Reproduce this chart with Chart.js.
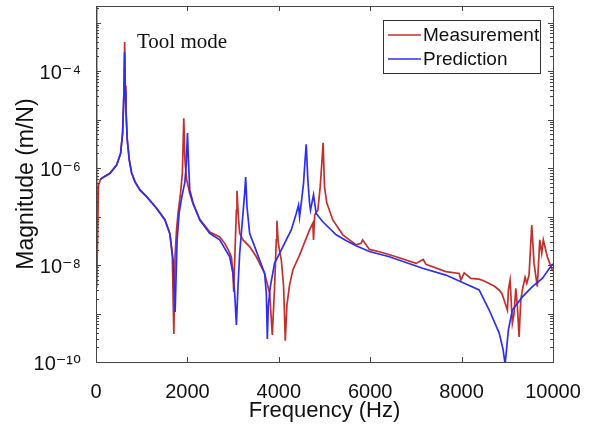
<!DOCTYPE html>
<html>
<head>
<meta charset="utf-8">
<script src="https://cdn.jsdelivr.net/npm/chart.js@4.4.1/dist/chart.umd.min.js"></script>
<style>
  html, body { margin: 0; padding: 0; background: #fff; }
  #wrap { width: 594px; height: 428px; }
</style>
</head>
<body>
<div id="wrap"><canvas id="frf" width="594" height="428"></canvas></div>
<script>
/* Tool mode FRF: measurement vs prediction */

const measFreq = [0, 15, 55, 100, 197, 306, 451, 538, 582, 611, 627, 641, 655, 684, 728, 779, 852, 961, 1106, 1325, 1507, 1616, 1670, 1703, 1730, 1760, 1797, 1850, 1890, 1921, 1945, 1980, 2052, 2125, 2271, 2489, 2707, 2817, 2900, 2963, 2998, 3013, 3042, 3072, 3085, 3115, 3144, 3216, 3362, 3509, 3690, 3800, 3858, 3908, 3945, 3959, 3989, 4055, 4105, 4142, 4178, 4236, 4309, 4454, 4673, 4745, 4760, 4785, 4855, 4906, 4941, 4970, 5000, 5051, 5182, 5400, 5692, 5800, 5836, 5983, 6202, 6567, 7003, 7162, 7220, 7657, 7948, 7985, 8057, 8202, 8384, 8493, 8712, 8821, 8880, 8930, 9002, 9024, 9061, 9111, 9148, 9186, 9221, 9258, 9295, 9330, 9389, 9426, 9476, 9535, 9585, 9657, 9710, 9753, 9788, 9876, 9928, 9985, 10000];
const measMag = [3e-3, 3.4e-9, 4.5e-7, 5.9e-7, 6.8e-7, 7.8e-7, 1.15e-6, 2.0e-6, 5.3e-6, 3.8e-5, 3.96e-4, 5.0e-5, 1.7e-5, 3.9e-6, 1.5e-6, 8.0e-7, 5.3e-7, 3.6e-7, 2.6e-7, 1.5e-7, 8.7e-8, 4.4e-8, 1.5e-8, 3.8e-10, 1.5e-8, 5.0e-8, 1.2e-7, 3.0e-7, 8.0e-7, 1.07e-5, 1.5e-6, 6.0e-7, 3.0e-7, 1.8e-7, 8.8e-8, 4.8e-8, 3.8e-8, 2.8e-8, 2.0e-8, 1.46e-8, 6.7e-9, 2.8e-9, 2.0e-8, 1.36e-7, 3.4e-7, 1.0e-7, 4.5e-8, 3.3e-8, 2.4e-8, 1.48e-8, 6.7e-9, 2.6e-9, 3.6e-10, 3.6e-9, 3.3e-8, 8.2e-8, 2.8e-8, 1.27e-8, 3.6e-9, 2.75e-10, 1.5e-9, 3.9e-9, 8.0e-9, 1.6e-8, 5.3e-8, 7.3e-8, 3.3e-8, 1.07e-7, 1.36e-7, 4.1e-7, 1.25e-6, 3.33e-6, 4.1e-7, 1.9e-7, 8.5e-8, 4.2e-8, 2.6e-8, 2.8e-8, 3.3e-8, 2.1e-8, 1.88e-8, 1.48e-8, 1.08e-8, 1.3e-8, 1.03e-8, 7.3e-9, 6.7e-9, 4.9e-9, 6.9e-9, 5.3e-9, 5.1e-9, 4.7e-9, 3.7e-9, 3.06e-9, 2.6e-9, 1.9e-9, 1.18e-9, 3.06e-9, 4.9e-9, 6.3e-10, 1.0e-9, 3.3e-9, 1.38e-9, 3.3e-10, 1.9e-9, 3.06e-9, 5.6e-9, 4.2e-9, 6.2e-9, 6.7e-8, 1.08e-8, 3.6e-9, 3.3e-8, 1.74e-8, 3.3e-8, 1.48e-8, 1.08e-8, 7.9e-9, 7.5e-9];

const predFreq = [100, 197, 306, 451, 538, 582, 611, 626, 640, 655, 684, 728, 779, 852, 961, 1106, 1325, 1507, 1616, 1688, 1731, 1775, 1820, 1880, 1943, 1975, 2002, 2022, 2052, 2125, 2271, 2489, 2707, 2926, 2998, 3035, 3072, 3107, 3144, 3181, 3216, 3253, 3275, 3304, 3362, 3472, 3581, 3690, 3727, 3749, 3770, 3814, 3908, 4017, 4090, 4273, 4382, 4432, 4454, 4491, 4541, 4570, 4600, 4636, 4673, 4694, 4760, 4818, 4963, 5255, 5470, 5692, 5983, 6419, 7147, 7657, 7985, 8384, 8603, 8821, 8908, 8952, 9024, 9111, 9330, 9548, 9767, 9972, 10000];
const predMag = [5.9e-7, 6.8e-7, 7.8e-7, 1.15e-6, 2.0e-6, 5.2e-6, 3.5e-5, 2.45e-4, 4.0e-5, 1.6e-5, 3.8e-6, 1.46e-6, 7.9e-7, 5.2e-7, 3.5e-7, 2.56e-7, 1.47e-7, 8.5e-8, 4.5e-8, 1.27e-8, 1.07e-9, 3.3e-8, 1.2e-7, 2.6e-7, 5.0e-7, 1.2e-6, 5.3e-6, 1.5e-6, 3.5e-7, 1.9e-7, 8.5e-8, 4.5e-8, 3.3e-8, 1.48e-8, 6.7e-9, 2.6e-9, 5.8e-10, 3.6e-9, 1.74e-8, 4.5e-8, 1.16e-7, 3.0e-7, 6.5e-7, 1.6e-7, 4.5e-8, 2.4e-8, 1.27e-8, 6.7e-9, 2.6e-9, 3.0e-10, 1.38e-9, 3.6e-9, 1.1e-8, 1.74e-8, 2.4e-8, 5.3e-8, 1.16e-7, 1.73e-7, 9.9e-8, 1.9e-7, 4.8e-7, 1.25e-6, 3.1e-6, 5.6e-7, 1.9e-7, 1.36e-7, 2.8e-7, 1.16e-7, 7.8e-8, 4.2e-8, 3.2e-8, 2.5e-8, 1.9e-8, 1.48e-8, 8.6e-9, 6.2e-9, 4.5e-9, 3.06e-9, 1.18e-9, 4.0e-10, 1.8e-10, 9e-11, 4.6e-10, 1.18e-9, 2.2e-9, 3.6e-9, 5.3e-9, 1.0e-8, 1.05e-8];

const seriesNames = ["Measurement", "Prediction"];
const seriesColors = ["#c1302c", "#2e2ef2"];
const xTickValues = [0, 2000, 4000, 6000, 8000, 10000];
const yTickValues = [1e-10, 1e-8, 1e-6, 1e-4];
const yTickLabels = ["10⁻¹⁰", "10⁻⁸", "10⁻⁶", "10⁻⁴"];
const noteText = "Tool mode";

const AXIS = "#444";
const SANS = "'Liberation Sans', Arial, 'DejaVu Sans', sans-serif";

function toPoints(fr, mag) {
    return fr.map((f, i) => ({ x: f, y: mag[i] }));
}

// frame, inward ticks, legend box, note
const decorPlugin = {
    id: "decor",
    afterDatasetsDraw(chart) {
        const { ctx, chartArea: a, scales } = chart;
        const xs = scales.x, ys = scales.y;
        ctx.save();
        ctx.strokeStyle = AXIS;
        ctx.lineWidth = 1;
        ctx.beginPath();
        // x ticks, bottom and top
        for (const v of xTickValues) {
            const px = Math.round(xs.getPixelForValue(v)) + 0.5;
            ctx.moveTo(px, a.bottom); ctx.lineTo(px, a.bottom - 5);
            ctx.moveTo(px, a.top); ctx.lineTo(px, a.top + 5);
        }
        // y ticks (log, minor)
        for (let e = -10; e <= -3; e++) {
            for (let k = 1; k <= 9; k++) {
                const v = k * Math.pow(10, e);
                if (v < ys.min || v > ys.max) continue;
                const py = Math.round(ys.getPixelForValue(v)) + 0.5;
                const len = k === 1 ? 5 : 3;
                ctx.moveTo(a.left, py); ctx.lineTo(a.left + len, py);
                ctx.moveTo(a.right, py); ctx.lineTo(a.right - len, py);
            }
        }
        ctx.stroke();
        ctx.strokeRect(Math.round(a.left) + 0.5, Math.round(a.top) + 0.5,
            Math.round(a.right - a.left), Math.round(a.bottom - a.top));

        // legend
        const lx = 383.5, ly = 20.5, lw = 157, lh = 53;
        ctx.fillStyle = "#fff";
        ctx.fillRect(lx, ly, lw, lh);
        ctx.strokeStyle = "#333";
        ctx.strokeRect(lx, ly, lw, lh);
        ctx.font = "19px " + SANS;
        ctx.textBaseline = "middle";
        chart.data.datasets.forEach((ds, i) => {
            const yy = 35 + i * 24;
            ctx.strokeStyle = ds.borderColor;
            ctx.lineWidth = 1.6;
            ctx.beginPath();
            ctx.moveTo(388, yy); ctx.lineTo(421, yy);
            ctx.stroke();
            ctx.fillStyle = "#111";
            ctx.fillText(ds.label, 423, yy + 1);
        });

        // note
        ctx.font = "21px 'Liberation Serif', 'Times New Roman', serif";
        ctx.textBaseline = "alphabetic";
        ctx.fillStyle = "#111";
        ctx.fillText(noteText, 137, 48);
        ctx.restore();
    }
};

new Chart(document.getElementById("frf"), {
    type: "line",
    data: {
        datasets: [
            {
                label: seriesNames[0],
                data: toPoints(measFreq, measMag),
                borderColor: seriesColors[0],
                borderWidth: 1.7,
                pointRadius: 0,
                tension: 0,
                order: 1
            },
            {
                label: seriesNames[1],
                data: toPoints(predFreq, predMag),
                borderColor: seriesColors[1],
                borderWidth: 1.7,
                pointRadius: 0,
                tension: 0,
                order: 0
            }
        ]
    },
    options: {
        responsive: false,
        animation: false,
        devicePixelRatio: 1,
        layout: { padding: { left: 0, top: 6, right: 41, bottom: 0 } },
        plugins: { legend: { display: false }, tooltip: { enabled: false } },
        scales: {
            x: {
                type: "linear",
                min: 0,
                max: 10000,
                afterFit: s => { s.height = 66; s.paddingLeft = 0; s.paddingRight = 0; },
                afterBuildTicks: s => { s.ticks = xTickValues.map(v => ({ value: v })); },
                grid: { display: false },
                border: { display: false },
                ticks: {
                    color: "#111", font: { size: 20, family: SANS }, padding: 10, maxRotation: 0,
                    callback: v => String(v)
                },
                title: {
                    display: true, text: "Frequency (Hz)", color: "#111",
                    font: { size: 22, family: SANS }, padding: { top: 0, bottom: 4 }
                }
            },
            y: {
                type: "logarithmic",
                min: 1e-10,
                max: 2.2e-3,
                afterFit: s => { s.width = 96; s.paddingTop = 0; s.paddingBottom = 0; },
                afterBuildTicks: s => { s.ticks = yTickValues.map(v => ({ value: v })); },
                grid: { display: false },
                border: { display: false },
                ticks: {
                    color: "#111",
                    font: { size: 20, family: SANS },
                    padding: 7,
                    labelOffset: 2,
                    callback: (v) => {
                        const i = yTickValues.findIndex(t => Math.abs(Math.log10(t) - Math.log10(v)) < 1e-6);
                        return i >= 0 ? yTickLabels[i] : "";
                    }
                },
                title: {
                    display: true, text: "Magnitude (m/N)", color: "#111",
                    font: { size: 23, family: SANS }, padding: { top: 13, bottom: 0 }
                }
            }
        }
    },
    plugins: [decorPlugin]
});
</script>
</body>
</html>
